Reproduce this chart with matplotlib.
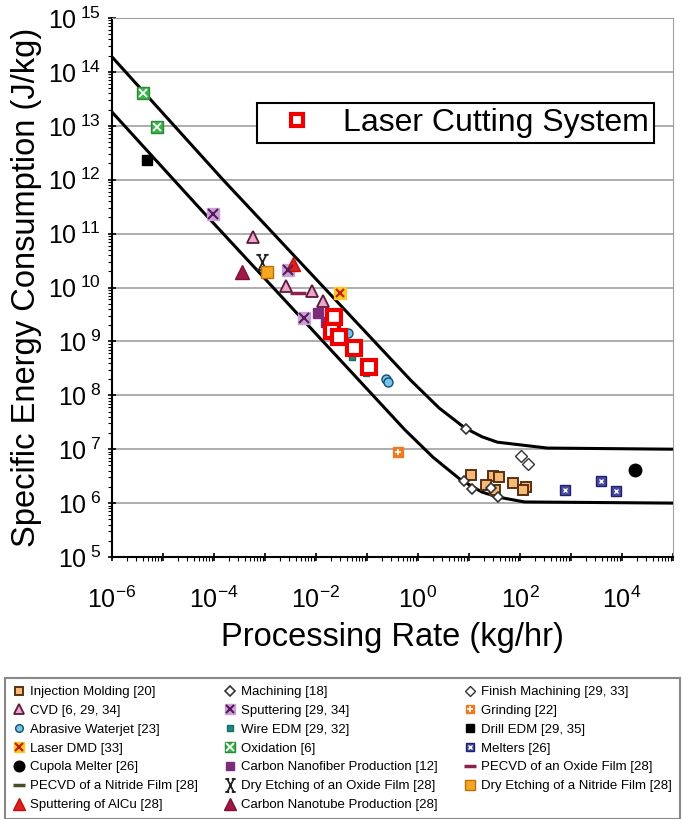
import numpy as np
import matplotlib
matplotlib.use('Agg')
import matplotlib.pyplot as plt
from matplotlib.path import Path
from matplotlib.ticker import FixedLocator, FuncFormatter, NullFormatter

# boundary curves
upper_x = [1e-6, 1.5e-4, 0.72, 2.6, 8.2, 18, 36, 345, 1e5]
upper_y = [1.9e14, 1.0e12, 1.9e8, 5.8e7, 2.5e7, 1.7e7, 1.35e7, 1.05e7, 1.0e7]
lower_x = [1e-6, 5e-5, 0.55, 2.0, 6.9, 18, 36, 123, 1e5]
lower_y = [1.8e13, 3.1e11, 2.3e7, 7.0e6, 2.7e6, 1.6e6, 1.3e6, 1.05e6, 1.0e6]

# processes
inj_x = [11, 29, 39, 22, 32, 74, 132, 115]
inj_y = [3.3e6, 3.2e6, 3.0e6, 2.2e6, 1.75e6, 2.35e6, 2.0e6, 1.75e6]
mach_x = [8.9, 7.8, 11.5, 27, 37]
mach_y = [2.4e7, 2.6e6, 1.8e6, 1.9e6, 1.3e6]
finish_x = [105, 145]
finish_y = [7.5e6, 5.4e6]
cvd_x = [5.8e-4, 2.6e-3, 8.2e-3, 1.35e-2]
cvd_y = [8.7e10, 1.07e10, 8.7e9, 5.6e9]
sput_x = [9.6e-5, 2.8e-3, 5.8e-3]
sput_y = [2.3e11, 2.1e10, 2.7e9]
grind_x = [0.40]
grind_y = [8.9e6]
water_x = [4.2e-2, 0.24, 0.26]
water_y = [1.44e9, 2.0e8, 1.8e8]
wire_x = [5.0e-2, 9.4e-2]
wire_y = [5.1e8, 2.6e8]
drill_x = [4.9e-6]
drill_y = [2.3e12]
dmd_x = [3.0e-2]
dmd_y = [7.9e9]
oxid_x = [4.0e-6, 7.6e-6]
oxid_y = [4.1e13, 9.5e12]
melt_x = [760, 3.9e3, 7.6e3]
melt_y = [1.75e6, 2.6e6, 1.66e6]
cupola_x = [1.8e4]
cupola_y = [4.1e6]
cnf_x = [1.1e-2, 1.55e-2]
cnf_y = [3.4e9, 2.3e9]
pecvd_ox_x = [4.4e-3]
pecvd_ox_y = [7.9e9]
pecvd_ni_x = []
pecvd_ni_y = []
dryox_x = [8.9e-4]
dryox_y = [3.0e10]
drynit_x = [1.1e-3]
drynit_y = [1.9e10]
alcu_x = [3.5e-3]
alcu_y = [2.7e10]
cnt_x = [3.5e-4]
cnt_y = [1.9e10]
laser_x = [2.3e-2, 2.1e-2, 2.8e-2, 5.5e-2, 0.107]
laser_y = [2.8e9, 1.56e9, 1.2e9, 7.5e8, 3.4e8]

labels = ['Injection Molding [20]', 'Machining [18]', 'Finish Machining [29, 33]',
          'CVD [6, 29, 34]', 'Sputtering [29, 34]', 'Grinding [22]',
          'Abrasive Waterjet [23]', 'Wire EDM [29, 32]', 'Drill EDM [29, 35]',
          'Laser DMD [33]', 'Oxidation [6]', 'Melters [26]',
          'Cupola Melter [26]', 'Carbon Nanofiber Production [12]', 'PECVD of an Oxide Film [28]',
          'PECVD of a Nitride Film [28]', 'Dry Etching of an Oxide Film [28]', 'Dry Etching of a Nitride Film [28]',
          'Sputtering of AlCu [28]', 'Carbon Nanotube Production [28]']

plt.rcParams['font.family'] = ['Liberation Sans', 'DejaVu Sans']
plt.rcParams['mathtext.fontset'] = 'custom'
plt.rcParams['mathtext.rm'] = 'Liberation Sans'
plt.rcParams['mathtext.it'] = 'Liberation Sans:italic'
plt.rcParams['mathtext.bf'] = 'Liberation Sans:bold'

fig = plt.figure(figsize=(6.85, 8.19), dpi=100)
ax = fig.add_axes([0.1635, 0.3199, 0.819, 0.6581])
ax.set_xscale('log')
ax.set_yscale('log')
ax.set_xlim(1e-6, 1e5)
ax.set_ylim(1e5, 1e15)

ax.plot(upper_x, upper_y, color='black', lw=2.2, zorder=3)
ax.plot(lower_x, lower_y, color='black', lw=2.2, zorder=3)


def pts(x, y, z=4, **kw):
    line, = ax.plot(x, y, ls='none', zorder=z, **kw)
    return line


# X with small serifs for dry etching of oxide
xbar = Path([(-0.5, -1), (0.5, 1), (-0.5, 1), (0.5, -1),
             (-0.8, 1), (-0.2, 1), (0.2, 1), (0.8, 1),
             (-0.8, -1), (-0.2, -1), (0.2, -1), (0.8, -1)],
            [Path.MOVETO, Path.LINETO] * 6)

h = []
h.append(pts(inj_x, inj_y, marker='s', ms=7.5, mfc='#F5B978', mec='#5A3010', mew=1.4))
h.append(pts(mach_x, mach_y, marker='D', ms=5.5, mfc='white', mec='#333333', mew=1.2))
h.append(pts(finish_x, finish_y, marker='D', ms=6, mfc='white', mec='#333333', mew=1.0))
h.append(pts(cvd_x, cvd_y, marker='^', ms=8, mfc='#EBA6CC', mec='#5A1A3A', mew=1.3))
h.append((pts(sput_x, sput_y, marker='s', ms=8.5, mfc='#C8A2D6', mec='#C8A2D6'),
          pts(sput_x, sput_y, z=5, marker='x', ms=7, mec='#5A1A5A', mew=1.5)))
h.append((pts(grind_x, grind_y, marker='s', ms=7, mfc='#F07A20', mec='#F07A20'),
          pts(grind_x, grind_y, z=5, marker='+', ms=5, mec='white', mew=1.2)))
h.append(pts(water_x, water_y, marker='o', ms=6.5, mfc='#6EC6EA', mec='#1A4A6A', mew=1.0))
h.append(pts(wire_x, wire_y, marker='s', ms=4.5, mfc='#1A8A8A', mec='#1A6A6A'))
h.append(pts(drill_x, drill_y, marker='s', ms=7, mfc='black', mec='black'))
h.append((pts(dmd_x, dmd_y, marker='s', ms=8.5, mfc='#FFC72C', mec='#FFC72C'),
          pts(dmd_x, dmd_y, z=5, marker='x', ms=6, mec='#C02000', mew=1.5)))
h.append((pts(oxid_x, oxid_y, marker='s', ms=8.5, mfc='#3CB44B', mec='#2A8A3A'),
          pts(oxid_x, oxid_y, z=5, marker='x', ms=6, mec='white', mew=1.3)))
h.append((pts(melt_x, melt_y, marker='s', ms=6.5, mfc='#4A4AA0', mec='#202070'),
          pts(melt_x, melt_y, z=5, marker='x', ms=3.5, mec='white', mew=1.0)))
h.append(pts(cupola_x, cupola_y, marker='o', ms=9, mfc='black', mec='black'))
h.append(pts(cnf_x, cnf_y, marker='s', ms=7, mfc='#7B2D7B', mec='#7B2D7B'))
h.append(pts(pecvd_ox_x, pecvd_ox_y, marker='_', ms=11, mec='#8B2252', mew=2.5))
h.append(pts(pecvd_ni_x, pecvd_ni_y, marker='_', ms=11, mec='#4B4B28', mew=2.5))
h.append(pts(dryox_x, dryox_y, marker=xbar, ms=11, mfc='none', mec='#222222', mew=1.3))
h.append(pts(drynit_x, drynit_y, marker='s', ms=8.5, mfc='#F5A623', mec='#C07000', mew=1.0))
h.append(pts(alcu_x, alcu_y, marker='^', ms=10, mfc='#E02020', mec='#C01010'))
h.append(pts(cnt_x, cnt_y, marker='^', ms=10, mfc='#A01848', mec='#801038'))

laser = pts(laser_x, laser_y, z=8, marker='s', ms=10.5, mfc='white', mec='#EE0000', mew=3)

# axes styling
ax.yaxis.grid(True, which='major', color='#a0a0a0', lw=1.2)
ax.set_axisbelow(True)
ax.spines['top'].set_color('#a0a0a0')
ax.spines['right'].set_color('#a0a0a0')
ax.spines['left'].set_linewidth(1.5)
ax.spines['bottom'].set_linewidth(1.5)

# ticks only inside the visible range
x_dec = np.arange(-6, 6)
y_dec = np.arange(5, 16)
x_minor = [m * 10.0 ** d for d in x_dec[:-1] for m in range(2, 10)]
y_minor = [m * 10.0 ** d for d in y_dec[:-1] for m in range(2, 10)]
ax.xaxis.set_major_locator(FixedLocator(10.0 ** x_dec))
ax.yaxis.set_major_locator(FixedLocator(10.0 ** y_dec))
ax.xaxis.set_minor_locator(FixedLocator(x_minor))
ax.yaxis.set_minor_locator(FixedLocator(y_minor))
ax.xaxis.set_minor_formatter(NullFormatter())
ax.yaxis.set_minor_formatter(NullFormatter())
ax.xaxis.set_major_formatter(FuncFormatter(
    lambda v, p: r'$10^{%d}$' % round(np.log10(v)) if round(np.log10(v)) % 2 == 0 else ''))
ax.yaxis.set_major_formatter(FuncFormatter(lambda v, p: r'$10^{\;%d}$' % round(np.log10(v))))
ax.tick_params(which='major', labelsize=18, length=6, width=1.2, direction='inout', pad=5)
ax.tick_params(axis='x', which='major', pad=18)
ax.tick_params(which='minor', length=3, width=0.8, direction='out')
ax.tick_params(top=False, right=False, which='both')

ax.set_xlabel('Processing Rate (kg/hr)', fontsize=23.5, labelpad=7)
ax.set_ylabel('Specific Energy Consumption (J/kg)', fontsize=23.5, labelpad=4)

leg = ax.legend([laser], ['Laser Cutting System'], loc='upper left', bbox_to_anchor=(0.258, 0.842),
                borderaxespad=0, fontsize=23, fancybox=False, edgecolor='black', framealpha=1,
                borderpad=0.15, handlelength=2.2, handletextpad=0.36, markerscale=0.85)
leg.get_frame().set_linewidth(1.5)

# bottom legend, row-major order -> column-major for matplotlib
order = list(range(0, 20, 3)) + list(range(1, 20, 3)) + list(range(2, 20, 3))
leg2 = fig.legend([h[i] for i in order], [labels[i] for i in order], ncol=3, loc='upper left',
                  bbox_to_anchor=(5 / 685, 4 / 819, 675 / 685, 137 / 819), mode='expand',
                  borderaxespad=0,
                  fontsize=9.5, fancybox=False, edgecolor='#888888', framealpha=1,
                  handlelength=0.9, handletextpad=0.4, labelspacing=0.5, borderpad=0.6,
                  markerscale=0.85)
leg2.get_frame().set_linewidth(1.5)

fig.savefig('out.png', dpi=100)
